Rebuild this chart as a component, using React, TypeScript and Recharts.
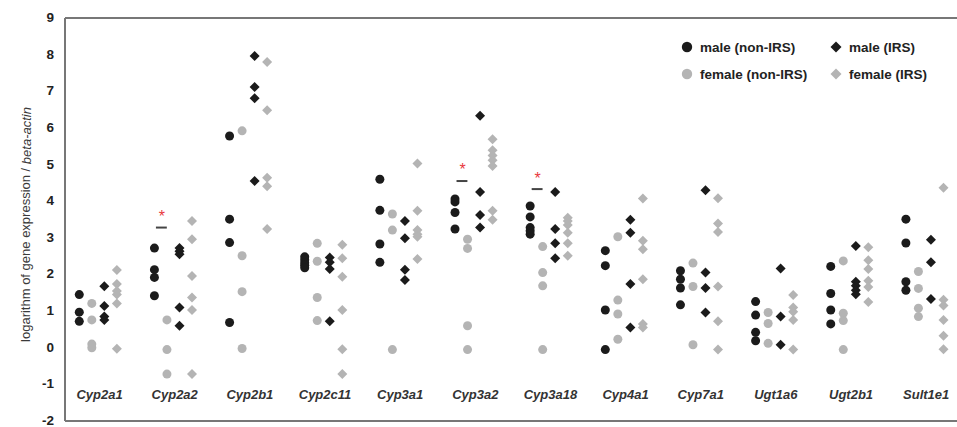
import React from "react";
import {
  ScatterChart,
  Scatter,
  XAxis,
  YAxis,
  ReferenceLine,
  Legend,
} from "recharts";

// genes along the x axis, four columns per gene
const genes = [
  "Cyp2a1", "Cyp2a2", "Cyp2b1", "Cyp2c11", "Cyp3a1", "Cyp3a2",
  "Cyp3a18", "Cyp4a1", "Cyp7a1", "Ugt1a6", "Ugt2b1", "Sult1e1",
];

const maleNonIrs = [
  [1.45, 0.97, 0.72],
  [2.72, 2.13, 1.92, 1.42],
  [5.78, 3.51, 2.87, 0.69],
  [2.48, 2.4, 2.32, 2.25, 2.18],
  [4.6, 3.75, 2.83, 2.33],
  [4.06, 3.98, 3.69, 3.24],
  [3.87, 3.57, 3.28, 3.19, 3.1],
  [2.65, 2.24, 1.03, -0.05],
  [2.1, 1.87, 1.63, 1.17],
  [1.26, 0.89, 0.42, 0.19],
  [2.22, 1.48, 1.03, 0.65],
  [3.51, 2.86, 1.8, 1.57],
];

const femaleNonIrs = [
  [1.21, 0.76, 0.1, 0.0],
  [0.76, -0.05, -0.72],
  [5.92, 2.51, 1.53, -0.02],
  [2.85, 2.36, 1.37, 0.74],
  [3.65, 3.21, -0.05],
  [2.96, 2.71, 0.6, -0.05],
  [2.76, 2.05, 1.69, -0.05],
  [3.03, 1.3, 0.92, 0.23],
  [2.31, 1.67, 0.08],
  [0.96, 0.66, 0.12],
  [2.37, 0.94, 0.74, -0.05],
  [2.08, 1.62, 1.08, 0.85],
];

const maleIrs = [
  [1.68, 1.14, 0.85, 0.76],
  [2.72, 2.63, 2.55, 1.1, 0.6],
  [7.96, 7.12, 6.81, 4.55],
  [2.46, 2.33, 2.15, 0.72],
  [3.46, 2.99, 2.13, 1.85],
  [6.33, 4.25, 3.62, 3.28],
  [4.25, 3.24, 2.85, 2.44],
  [3.49, 3.14, 1.74, 0.55],
  [4.3, 2.05, 1.63, 0.96],
  [2.16, 0.85, 0.08],
  [2.78, 1.8, 1.69, 1.57, 1.46],
  [2.95, 2.33, 1.33],
];

const femaleIrs = [
  [2.12, 1.74, 1.55, 1.45, 1.21, -0.03],
  [3.46, 2.96, 1.96, 1.37, 1.03, -0.72],
  [7.8, 6.48, 4.64, 4.41, 3.24],
  [2.81, 2.44, 1.94, 1.03, -0.04, -0.72],
  [5.03, 3.74, 3.21, 3.1, 3.03, 2.42],
  [5.69, 5.39, 5.25, 5.12, 4.96, 3.74, 3.49],
  [3.55, 3.46, 3.35, 3.14, 2.85, 2.51],
  [4.07, 2.92, 2.69, 1.87, 0.65, 0.55],
  [4.08, 3.39, 3.16, 1.67, 0.72, -0.05],
  [1.44, 1.1, 0.98, 0.76, -0.05],
  [2.74, 2.39, 2.15, 1.83, 1.66, 1.25],
  [4.37, 1.31, 1.15, 0.76, 0.33, -0.04],
];

// significance marks (gene index, bar level, asterisk level)
const sigGenes = [1, 5, 6];
const sigBar = [3.28, 4.55, 4.33];
const sigStar = [3.65, 4.92, 4.69];

const yTicks = [-2, -1, 0, 1, 2, 3, 4, 5, 6, 7, 8, 9];

const BLACK = "#1b1b1b";
const GREY = "#b4b4b4";
const AXIS = "#777777";
const FONT = "'Liberation Sans', Arial, sans-serif";

const toPoints = (groups: number[][], col: number) =>
  groups.flatMap((vals, g) => vals.map((v) => ({ x: g + col / 6, y: v })));

const circleShape = (fill: string) => (p: any) =>
  <circle cx={p.cx} cy={p.cy} r={4.5} fill={fill} />;

const diamondShape = (fill: string) => (p: any) => {
  const { cx, cy } = p;
  const s = 5;
  return <path d={`M${cx},${cy - s}L${cx + s},${cy}L${cx},${cy + s}L${cx - s},${cy}Z`} fill={fill} />;
};

const starShape = (p: any) => (
  <text x={p.cx} y={p.cy + 8} textAnchor="middle" fontSize={16} fill="#e8383d" fontFamily={FONT}>*</text>
);

const GeneTick = (props: any) => {
  const { x, y, payload } = props;
  const idx = Math.round(payload.value - 0.27);
  return (
    <text x={x} y={y - 22.5} textAnchor="middle" fontSize={13} fontWeight="bold"
      fontStyle="italic" fill="#333" fontFamily={FONT}>
      {genes[idx]}
    </text>
  );
};

const ValueTick = (props: any) => {
  const { x, y, payload } = props;
  return (
    <text x={x} y={y + 4} textAnchor="end" fontSize={13.5} fontWeight="bold"
      fill="#222" fontFamily={FONT}>
      {payload.value}
    </text>
  );
};

const YTitle = (props: any) => {
  const { y, height } = props.viewBox;
  const cx = 25.5;
  const cy = y + height / 2 + 5;
  return (
    <text x={cx} y={cy} transform={`rotate(-90, ${cx}, ${cy})`} textAnchor="middle"
      dominantBaseline="central" fontSize={13} fill="#3a3a3a" fontFamily={FONT}>
      logarithm of gene expression / <tspan fontStyle="italic">beta-actin</tspan>
    </text>
  );
};

const legendItems = [
  { label: "male (non-IRS)", color: BLACK, shape: "circle", left: 0, top: 0 },
  { label: "male (IRS)", color: BLACK, shape: "diamond", left: 149, top: 0 },
  { label: "female (non-IRS)", color: GREY, shape: "circle", left: 0, top: 27 },
  { label: "female (IRS)", color: GREY, shape: "diamond", left: 149, top: 27 },
];

const LegendBox = () => (
  <div style={{ position: "relative", width: 280, height: 54, fontFamily: FONT }}>
    {legendItems.map((it) => (
      <div key={it.label} style={{ position: "absolute", left: it.left, top: it.top, display: "flex", alignItems: "center", height: 20 }}>
        <svg width={14} height={14} style={{ marginRight: 6 }}>
          {it.shape === "circle"
            ? <circle cx={7} cy={7} r={5.2} fill={it.color} />
            : <path d="M7,1.5L12.5,7L7,12.5L1.5,7Z" fill={it.color} />}
        </svg>
        <span style={{ fontSize: 13.5, fontWeight: "bold", color: "#222", whiteSpace: "nowrap" }}>{it.label}</span>
      </div>
    ))}
  </div>
);

export default function App() {
  const geneTicks = genes.map((_, i) => i + 0.27);
  const stars = sigGenes.map((g, i) => ({ x: g + 0.1, y: sigStar[i] }));

  return (
    <div style={{ position: "absolute", left: 0, top: 0 }}>
      <ScatterChart width={957} height={427} margin={{ top: 18, right: 0, bottom: 0, left: 0 }}>
        <XAxis
          type="number"
          dataKey="x"
          domain={[-0.19, 11.68]}
          ticks={geneTicks}
          interval={0}
          height={6}
          tickSize={0}
          tickMargin={0}
          tickLine={false}
          axisLine={{ stroke: AXIS, strokeWidth: 2 }}
          tick={<GeneTick />}
          allowDataOverflow
        />
        <YAxis
          type="number"
          dataKey="y"
          domain={[-2, 9]}
          ticks={yTicks}
          interval={0}
          width={65}
          tickSize={0}
          tickMargin={11}
          tickLine={false}
          axisLine={{ stroke: AXIS, strokeWidth: 2 }}
          tick={<ValueTick />}
          label={<YTitle />}
        />
        <ReferenceLine y={9} stroke={AXIS} strokeWidth={2} />
        <Legend
          layout="horizontal"
          verticalAlign="middle"
          wrapperStyle={{ top: 37, left: 680, width: 280 }}
          content={<LegendBox />}
        />

        <Scatter name="male (non-IRS)" data={toPoints(maleNonIrs, 0)} shape={circleShape(BLACK)} isAnimationActive={false} />
        <Scatter name="female (non-IRS)" data={toPoints(femaleNonIrs, 1)} shape={circleShape(GREY)} isAnimationActive={false} />
        <Scatter name="male (IRS)" data={toPoints(maleIrs, 2)} shape={diamondShape(BLACK)} isAnimationActive={false} />
        <Scatter name="female (IRS)" data={toPoints(femaleIrs, 3)} shape={diamondShape(GREY)} isAnimationActive={false} />

        {sigGenes.map((g, i) => (
          <ReferenceLine
            key={g}
            segment={[{ x: g + 0.02, y: sigBar[i] }, { x: g + 0.165, y: sigBar[i] }]}
            stroke="#444"
            strokeWidth={2}
          />
        ))}
        <Scatter name="sig" data={stars} shape={starShape} isAnimationActive={false} legendType="none" />
      </ScatterChart>
    </div>
  );
}
